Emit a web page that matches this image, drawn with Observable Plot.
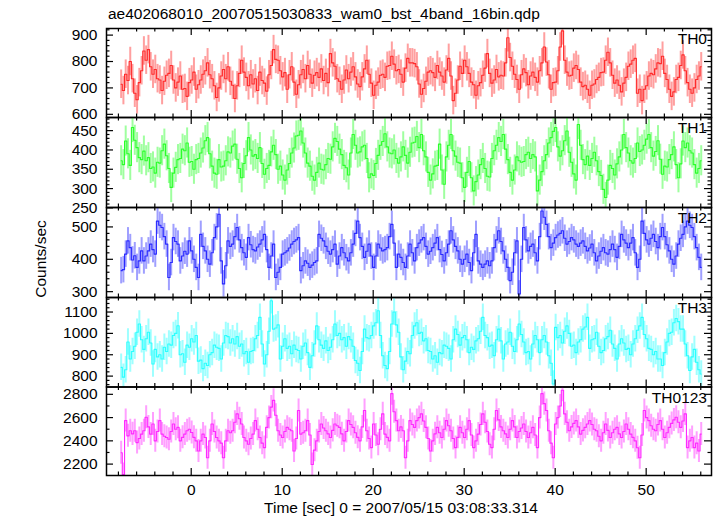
<!DOCTYPE html>
<html><head><meta charset="utf-8">
<script src="https://cdn.jsdelivr.net/npm/d3@7"></script>
<script src="https://cdn.jsdelivr.net/npm/@observablehq/plot@0.6"></script>
<style>
html,body{margin:0;padding:0;background:#fff;}
#chart{position:relative;width:717px;height:516px;font-family:"Liberation Sans",Arial,Helvetica,sans-serif;overflow:hidden;background:#fff;}
#chart svg{position:absolute;left:0;top:0;}
.lbl{position:absolute;font-size:15.5px;line-height:18px;color:#000;white-space:nowrap;}
</style></head><body>
<div id="chart"></div>
<script>
const title = "ae402068010_20070515030833_wam0_bst_4band_16bin.qdp";
const xTitle = "Time [sec] 0 = 2007/05/15 03:08:33.314";
const yTitle = "Counts/sec";
const bands = ["TH0", "TH1", "TH2", "TH3", "TH0123"];
const colors = ["#ff2a2a", "#2aff2a", "#2a2aff", "#2affff", "#ff2aff"];
const binCenter0 = -7.7, binWidth = 0.25;
const errHalf = [54, 39, 41, 62, 99];

const th0 = [714,690,752,728,800,735,680,655, 720,765,840,805,845,780,752,770, 735,730,690,725,748,755,785,730, 700,722,745,695,698,668,720,730,
760,695,712,730,752,765,795,750, 735,708,664,700,745,770,735,780, 725,710,660,708,755,805,760,740, 708,750,715,735,690,760,728,718,
688,750,785,845,808,805,765,742, 758,695,750,780,722,676,712,750, 770,735,785,752,718,748,758,740, 772,728,755,720,830,795,782,735,
725,695,730,768,735,760,780,742, 715,705,742,772,805,752,718,672, 710,722,748,752,740,782,785,820, 790,765,770,752,722,775,812,795,
795,792,780,715,676,698,725,760, 765,758,740,785,760,745,722,768, 812,745,652,680,730,782,755,805, 780,755,722,712,672,708,720,748,
775,830,755,718,730,770,742,748, 745,795,890,815,782,752,732,695, 750,772,758,712,745,760,740,722, 765,795,855,798,750,695,720,722,
765,855,916,805,760,745,748,775, 785,770,722,705,710,695,672,710, 715,732,740,758,760,805,835,795, 748,718,730,710,685,718,740,782,
790,805,812,680,695,652,695,708, 745,755,750,772,795,792,820,755, 732,695,668,685,732,740,785,825, 765,720,695,680,700,732,745,780];

const th1 = [372,362,423,390,360,458,425,406, 380,375,397,372,380,352,356,340, 368,366,398,415,385,352,303,340, 355,375,378,402,398,418,368,370,
350,375,378,392,405,424,432,390, 358,340,337,375,356,358,372,395, 392,410,415,376,352,328,365,385, 432,400,384,388,378,406,365,337,
352,360,395,412,388,350,358,335, 322,348,365,392,405,436,438,449, 418,392,366,358,332,322,342,366, 350,348,362,378,376,408,430,422,
402,388,360,354,335,392,440,412, 392,395,408,412,378,328,338,334, 365,386,412,422,442,408,392,390, 400,378,366,382,408,386,366,394,
418,420,435,406,440,398,382,342, 322,338,358,360,415,348,311,382, 412,440,398,384,368,366,328,303, 342,370,328,294,318,335,362,378,
352,332,330,378,398,412,432,422, 440,402,375,342,322,348,382,372, 368,370,388,394,378,388,382,294, 322,344,372,388,418,432,448,458,
408,384,398,424,449,394,368,338, 322,466,412,375,362,384,360,378, 394,372,344,334,298,277,322,360, 352,335,364,382,400,440,406,392,
372,366,378,418,396,400,412,428, 440,406,384,396,424,376,337,358, 356,375,388,408,362,328,364,423, 406,418,398,392,362,340,352,372];

const th2 = [365,368,416,457,436,398,411,375, 395,426,395,410,426,447,430,416, 518,505,498,470,447,344,390,467, 455,447,395,410,425,416,457,426,
400,375,344,477,440,426,400,385, 420,467,500,539,395,324,380,457, 440,447,470,498,460,436,420,406, 467,445,430,426,438,447,460,477,
430,375,410,447,344,360,375,416, 420,426,435,447,455,460,467,365, 380,395,388,375,382,390,395,477, 465,457,440,425,416,430,447,385,
410,436,420,405,395,420,447,480, 518,467,440,406,425,447,410,375, 410,447,435,426,430,436,470,508, 450,375,416,406,390,375,410,447,
420,395,436,450,460,467,440,416, 425,436,450,467,430,415,395,420, 447,488,460,440,426,400,385,400, 416,390,365,420,477,395,385,375,
385,395,380,395,436,460,488,455, 426,400,375,334,360,420,457,293, 400,498,460,426,440,447,420,395, 470,549,530,508,470,436,450,467,
475,480,488,465,447,455,467,460, 447,440,450,457,440,426,435,447, 420,395,410,425,436,420,416,430, 447,430,406,440,477,460,450,436,
450,467,420,375,400,518,480,460, 447,465,477,455,436,470,498,470, 445,426,400,385,410,447,465,477, 500,518,505,498,470,436,406,375];

const th3 = [841,795,830,960,880,915,940,1005, 1044,970,925,975,1005,955,857,925, 890,900,880,935,915,950,945,990, 1000,1036,900,905,865,945,935,975,
960,990,870,875,835,860,850,900, 910,945,935,930,880,955,990,985, 955,975,950,985,940,950,905,915, 865,915,920,975,990,1075,950,857,
900,1010,1153,1020,1025,1040,880,940, 975,930,940,905,945,925,920,880, 940,955,910,841,895,950,1035,970, 945,930,965,920,935,970,1044,990,
1000,970,980,940,985,970,940,873, 860,826,915,1020,980,975,990,1035, 1050,1106,990,895,850,835,915,1044, 1100,1040,1005,890,830,870,915,905,
990,1035,1050,1000,1005,965,975,920, 915,880,895,865,910,905,945,940, 930,880,970,1020,995,945,980,990, 970,910,935,925,965,975,1010,1075,
990,980,940,945,895,970,1020,965, 880,950,960,1005,940,915,970,1044, 995,960,910,915,880,950,990,970, 910,970,990,960,895,860,763,1028,
980,990,955,1010,1035,1000,940,945, 910,960,970,1020,1030,1075,930,970, 975,1005,940,910,920,975,985,1015, 950,930,880,950,975,955,925,930,
900,950,975,1015,1035,1075,995,975, 930,925,900,915,880,880,850,910, 960,1000,1005,1050,1070,1055,1020,1020, 950,895,826,890,925,865,830,810];

const th0123 = [2298,2110,2574,2443,2487,2460,2487,2385, 2420,2458,2487,2603,2520,2458,2545,2400, 2480,2574,2458,2440,2429,2414,2480,2545, 2500,2516,2400,2430,2458,2487,2500,2472,
2430,2400,2313,2400,2458,2429,2255,2400, 2545,2480,2429,2400,2380,2255,2400,2487, 2470,2487,2560,2632,2590,2545,2429,2400, 2371,2420,2458,2574,2500,2429,2380,2342,
2516,2600,2690,2748,2620,2487,2450,2429, 2480,2516,2500,2487,2313,2420,2661,2458, 2470,2487,2574,2450,2197,2320,2400,2480, 2545,2510,2487,2460,2429,2490,2545,2530,
2516,2460,2400,2480,2574,2540,2516,2470, 2430,2400,2520,2661,2487,2420,2342,2545, 2450,2371,2500,2632,2458,2430,2400,2806, 2650,2574,2487,2520,2487,2255,2400,2574,
2540,2516,2574,2600,2632,2570,2516,2420, 2313,2400,2460,2516,2470,2429,2500,2574, 2530,2487,2420,2342,2430,2516,2470,2429, 2500,2574,2450,2342,2400,2458,2540,2632,
2560,2480,2371,2342,2500,2661,2580,2520, 2487,2460,2429,2500,2574,2520,2429,2480, 2510,2545,2480,2429,2470,2516,2450,2342, 2600,2806,2720,2661,2487,2380,2255,2545,
2600,2700,2835,2632,2560,2487,2520,2550, 2574,2520,2458,2490,2516,2545,2574,2540, 2500,2487,2440,2400,2470,2545,2490,2429, 2470,2500,2516,2460,2429,2480,2545,2500,
2458,2430,2400,2340,2255,2450,2661,2600, 2574,2530,2500,2487,2540,2574,2500,2429, 2470,2516,2550,2580,2603,2560,2516,2570, 2632,2342,2400,2429,2342,2380,2313,2458];

const series = [th0, th1, th2, th3, th0123];
const yDomains = [[588, 925], [251, 484], [282, 560], [749, 1168], [2102, 2863]];
const yLabelTicks = [[600, 700, 800, 900], [250, 300, 350, 400, 450], [300, 400, 500], [800, 900, 1000, 1100], [2200, 2400, 2600, 2800]];
const yMinorStep = [20, 10, 20, 20, 100];
const xDomain = [-9.31, 57.18];
const xLabelTicks = [0, 10, 20, 30, 40, 50];
const xMinorStep = 2;

// layout
const W = 717, H = 516, ML = 106, MR = 6;
const edges = [28, 117, 207, 297, 386.5, 475];
const innerW = W - ML - MR;
const majorLen = 7, minorLen = 3.5;
const fontSize = 15.5;

const chart = document.getElementById("chart");
const xMinor = d3.range(Math.ceil(xDomain[0] / xMinorStep) * xMinorStep, xDomain[1], xMinorStep).filter(d => !xLabelTicks.includes(d));

series.forEach((vals, k) => {
  const top = edges[k], bot = edges[k + 1];
  const innerH = bot - top;
  const [lo, hi] = yDomains[k];
  const step = yMinorStep[k];
  const yMinor = d3.range(Math.ceil(lo / step) * step, hi, step).filter(d => !yLabelTicks[k].includes(d));
  const data = vals.map((v, i) => ({t: binCenter0 + i * binWidth, v, lo: v - errHalf[k], hi: v + errHalf[k]}));
  const tickStyle = {stroke: "#000", strokeWidth: 1.2};
  const last = k === series.length - 1;
  const marks = [
    Plot.ruleX(data, {x: "t", y1: "lo", y2: "hi", stroke: colors[k], strokeOpacity: 0.45, strokeWidth: 2, clip: true}),
    Plot.line(data, {x: "t", y: "v", curve: "step", stroke: colors[k], strokeWidth: 1.1, clip: true}),
    Plot.tickY(yLabelTicks[k], {insetRight: innerW - majorLen, ...tickStyle}),
    Plot.tickY(yLabelTicks[k], {insetLeft: innerW - majorLen, ...tickStyle}),
    Plot.tickY(yMinor, {insetRight: innerW - minorLen, ...tickStyle}),
    Plot.tickY(yMinor, {insetLeft: innerW - minorLen, ...tickStyle}),
    Plot.tickX(xLabelTicks, {insetBottom: innerH - majorLen, ...tickStyle}),
    Plot.tickX(xLabelTicks, {insetTop: innerH - majorLen, ...tickStyle}),
    Plot.tickX(xMinor, {insetBottom: innerH - minorLen, ...tickStyle}),
    Plot.tickX(xMinor, {insetTop: innerH - minorLen, ...tickStyle}),
    Plot.frame({stroke: "#000", strokeWidth: 1.5}),
    Plot.axisY(yLabelTicks[k], {tickSize: 0, tickPadding: 9, fontSize, tickFormat: d3.format("d"), label: null}),
    Plot.text([bands[k]], {text: d => d, frameAnchor: "top-right", textAnchor: "end", lineAnchor: "top", dx: -4.5, dy: 4.5, fontSize, fill: "#000"})
  ];
  if (last) marks.push(Plot.axisX(xLabelTicks, {tickSize: 0, tickPadding: 8, fontSize, tickFormat: d3.format("d"), label: null}));
  const svg = Plot.plot({
    width: W, height: H,
    marginLeft: ML, marginRight: MR, marginTop: top, marginBottom: H - bot,
    x: {domain: xDomain, axis: last ? undefined : null, label: null},
    y: {domain: yDomains[k], label: null},
    style: {background: "transparent", overflow: "visible", fontFamily: "'Liberation Sans', Arial, Helvetica, sans-serif", fontSize: fontSize + "px", color: "#000"},
    marks
  });
  chart.appendChild(svg);
});

function addLabel(text, css) {
  const d = document.createElement("div");
  d.className = "lbl";
  d.textContent = text;
  Object.assign(d.style, css);
  chart.appendChild(d);
}
addLabel(title, {left: "108px", top: "5px"});
addLabel(xTitle, {left: "401px", top: "499px", transform: "translateX(-50%)"});
addLabel(yTitle, {left: "41px", top: "259px", transform: "translate(-50%,-50%) rotate(-90deg)"});
</script>
</body></html>
